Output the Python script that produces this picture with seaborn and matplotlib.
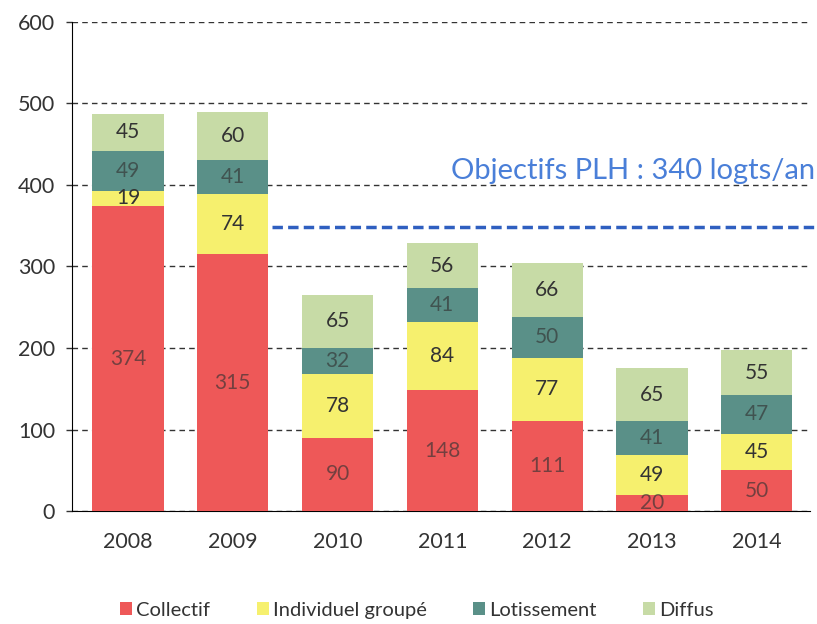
import numpy as np
import pandas as pd
import matplotlib
matplotlib.use("Agg")
import matplotlib.pyplot as plt
from matplotlib.patches import Patch
import seaborn as sns

# values
years = ['2008', '2009', '2010', '2011', '2012', '2013', '2014']
collectif = [374, 315, 90, 148, 111, 20, 50]
individuel = [19, 74, 78, 84, 77, 49, 45]
lotissement = [49, 41, 32, 41, 50, 41, 47]
diffus = [45, 60, 65, 56, 66, 65, 55]
objectif = 348   # dashed line position as drawn
objectif_txt = 'Objectifs PLH : 340 logts/an'

series = ['Collectif', 'Individuel groupé', 'Lotissement', 'Diffus']
colors = ['#EE5858', '#F6F06E', '#5A9088', '#C7DBA6']
label_alpha = [0.65, 1.0, 0.65, 1.0]   # labels on the dark fills look washed out

df = pd.DataFrame({'year': years, 'Collectif': collectif, 'Individuel groupé': individuel,
                   'Lotissement': lotissement, 'Diffus': diffus})

sns.set_style('white')
plt.rcParams['font.family'] = ['Lato', 'DejaVu Sans']

fig = plt.figure(figsize=(8.17, 6.24), dpi=100)
ax = fig.add_axes([0.088, 0.181, 0.903, 0.784])

bottom = np.zeros(len(years))
for s, c, a in zip(series, colors, label_alpha):
    sns.barplot(data=df, x='year', y=s, color=c, bottom=bottom, width=0.68,
                saturation=1, linewidth=0, ax=ax, zorder=3)
    for i, v in enumerate(df[s]):
        ax.text(i, bottom[i] + v / 2, str(v), ha='center', va='center',
                fontsize=15, color='#333333', alpha=a, zorder=4)
    bottom = bottom + df[s].values

ax.set_ylim(0, 600)
ax.set_xlim(-0.535, 6.505)
ax.set_yticks(range(0, 601, 100))
ax.set_xlabel('')
ax.set_ylabel('')
ax.yaxis.grid(True, linestyle=(0, (4, 3)), color='#333333', linewidth=1.0, zorder=0)
ax.xaxis.grid(False)
for side in ['top', 'right']:
    ax.spines[side].set_visible(False)
ax.spines['left'].set_color('black')
ax.spines['bottom'].set_color('black')
ax.tick_params(axis='both', labelsize=15.5, colors='#333333', length=4, width=1)
ax.tick_params(axis='y', direction='out', left=True, pad=8)
ax.tick_params(axis='x', bottom=False, pad=11)

# objective line
ax.plot([1.37, 7.1], [objectif, objectif], linestyle=(0, (3, 1.5)), color='#2F5FC0',
        linewidth=2.5, clip_on=False, zorder=5)
ax.text(6.56, 407, objectif_txt, ha='right', va='baseline', fontsize=21,
        color='#4A7FD8', clip_on=False, zorder=6)

handles = [Patch(facecolor=c, edgecolor='none') for c in colors]
fig.legend(handles, series, loc='lower center', bbox_to_anchor=(0.51, -0.021), ncol=4,
           frameon=False, fontsize=14.5, handlelength=0.6, handleheight=0.6,
           handletextpad=0.2, columnspacing=2.3, labelcolor='#333333')

fig.savefig('out.png', dpi=100)
